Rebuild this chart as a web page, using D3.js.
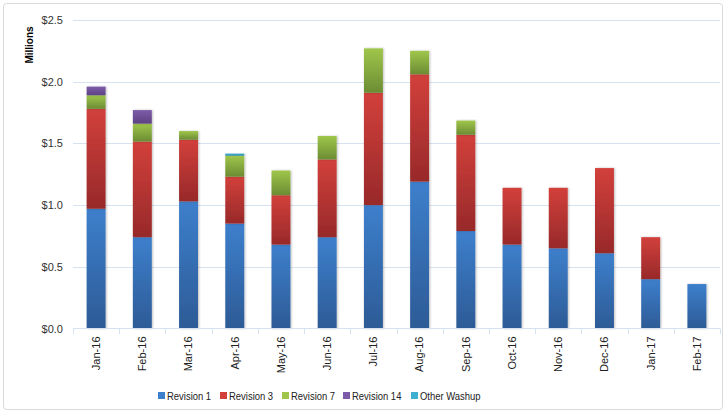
<!DOCTYPE html>
<html><head><meta charset="utf-8">
<script src="https://cdn.jsdelivr.net/npm/d3@7"></script>
<style>body{margin:0;background:#fff;}svg{display:block;font-family:"Liberation Sans",Arial,sans-serif;}</style>
</head><body><svg id="c" width="727" height="414"></svg>
<script>
const months = ["Jan-16","Feb-16","Mar-16","Apr-16","May-16","Jun-16","Jul-16","Aug-16","Sep-16","Oct-16","Nov-16","Dec-16","Jan-17","Feb-17"];
const seriesNames = ["Revision 1","Revision 3","Revision 7","Revision 14","Other Washup"];
const revision1 = [0.97,0.74,1.03,0.85,0.68,0.74,1.00,1.19,0.79,0.68,0.65,0.61,0.40,0.36];
const revision3 = [0.81,0.775,0.50,0.38,0.40,0.63,0.91,0.87,0.78,0.46,0.49,0.69,0.34,0];
const revision7 = [0.11,0.145,0.07,0.17,0.20,0.19,0.36,0.19,0.115,0,0,0,0,0];
const revision14 = [0.07,0.11,0,0,0,0,0,0,0,0,0,0,0,0];
const otherWashup = [0,0,0,0.017,0,0,0,0,0,0,0,0,0,0];
const yTicks = [0,0.5,1.0,1.5,2.0,2.5];
const colors = [["#3d7fcc","#2d5b96"],["#d2403b","#98292a"],["#9fc64b","#6c8c33"],["#7c5ca8","#5d4283"],["#3fb0d0","#2b8aa8"]];

const svg = d3.select("#c");
const W=727,H=414, m={l:73,r:7,t:20,b:86};
const pw=W-m.l-m.r;
svg.append("rect").attr("x",3.5).attr("y",3.5).attr("width",W-8).attr("height",H-8).attr("rx",3)
  .attr("fill","#fff").attr("stroke","#d9d9d9");

const defs=svg.append("defs");
colors.forEach((c,i)=>{
  const g=defs.append("linearGradient").attr("id","g"+i).attr("x1",0).attr("y1",0).attr("x2",0).attr("y2",1);
  g.append("stop").attr("offset","0%").attr("stop-color",c[0]);
  g.append("stop").attr("offset","100%").attr("stop-color",c[1]);
});
const f=defs.append("filter").attr("id","sh").attr("x","-30%").attr("y","-10%").attr("width","160%").attr("height","120%");
f.append("feDropShadow").attr("dx",1).attr("dy",0).attr("stdDeviation",1).attr("flood-color","#000").attr("flood-opacity",0.25);

const x=d3.scaleBand().domain(months).range([m.l,m.l+pw]).paddingInner(0.59).paddingOuter(0.295);
const y=d3.scaleLinear().domain([0,2.5]).range([328.5,20]);

// gridlines
svg.append("g").selectAll("line").data(yTicks.slice(1)).join("line")
  .attr("x1",m.l).attr("x2",m.l+pw).attr("y1",d=>Math.round(y(d))+0.5).attr("y2",d=>Math.round(y(d))+0.5)
  .attr("stroke","#d6e2f0").attr("stroke-width",1.2);

// y labels
const ya=d3.axisLeft(y).tickValues(yTicks).tickFormat(d=>"$"+d.toFixed(1)).tickSize(0).tickPadding(10);
const yg=svg.append("g").attr("transform",`translate(${m.l},0)`).call(ya);
yg.select(".domain").remove();
yg.selectAll("text").attr("font-size",11).attr("fill","#333").attr("font-family","Liberation Sans, Arial, sans-serif");

svg.append("text").attr("transform","translate(33,45) rotate(-90)").attr("text-anchor","middle")
  .attr("font-size",10).attr("font-weight","bold").attr("fill","#000").text("Millions");

// stacked data
const table=months.map((mo,i)=>({month:mo,"Revision 1":revision1[i],"Revision 3":revision3[i],"Revision 7":revision7[i],"Revision 14":revision14[i],"Other Washup":otherWashup[i]}));
const stacked=d3.stack().keys(seriesNames)(table);
svg.append("g").selectAll("g").data(stacked).join("g").attr("fill",(d,i)=>`url(#g${i})`)
  .selectAll("rect").data(d=>d.filter(p=>p[1]-p[0]>0)).join("rect")
  .attr("x",d=>x(d.data.month)).attr("width",x.bandwidth())
  .attr("y",d=>y(d[1])).attr("height",d=>y(d[0])-y(d[1])).attr("filter","url(#sh)");

// x axis
const xa=d3.axisBottom(x).tickSize(0).tickPadding(0);
const xg=svg.append("g").attr("transform","translate(0,328.5)").call(xa);
xg.select(".domain").attr("stroke","#d6e2f0").attr("d",`M${m.l},0H${m.l+pw}`);
const step=x.step();
svg.append("g").selectAll("line").data(d3.range(months.length+1)).join("line")
  .attr("x1",i=>Math.round(m.l+i*step)+0.5).attr("x2",i=>Math.round(m.l+i*step)+0.5)
  .attr("y1",328.5).attr("y2",334).attr("stroke","#d6e2f0");
xg.selectAll("text").attr("font-size",11).attr("fill","#222").attr("font-family","Liberation Sans, Arial, sans-serif")
  .attr("text-anchor","end").attr("dy","0.35em").attr("transform","translate(0,8) rotate(-90)").attr("x",0).attr("y",0);

// legend
const lx=[158,220,282,343,411];
const lg=svg.append("g").selectAll("g").data(seriesNames).join("g").attr("transform",(d,i)=>`translate(${lx[i]},396)`);
lg.append("rect").attr("x",0).attr("y",-4).attr("width",7).attr("height",7).attr("fill",(d,i)=>colors[i][0]);
lg.append("text").attr("transform","translate(9,0) scale(0.86,1)").attr("dy","0.35em").attr("font-size",11).attr("fill","#222").text(d=>d);
</script></body></html>
